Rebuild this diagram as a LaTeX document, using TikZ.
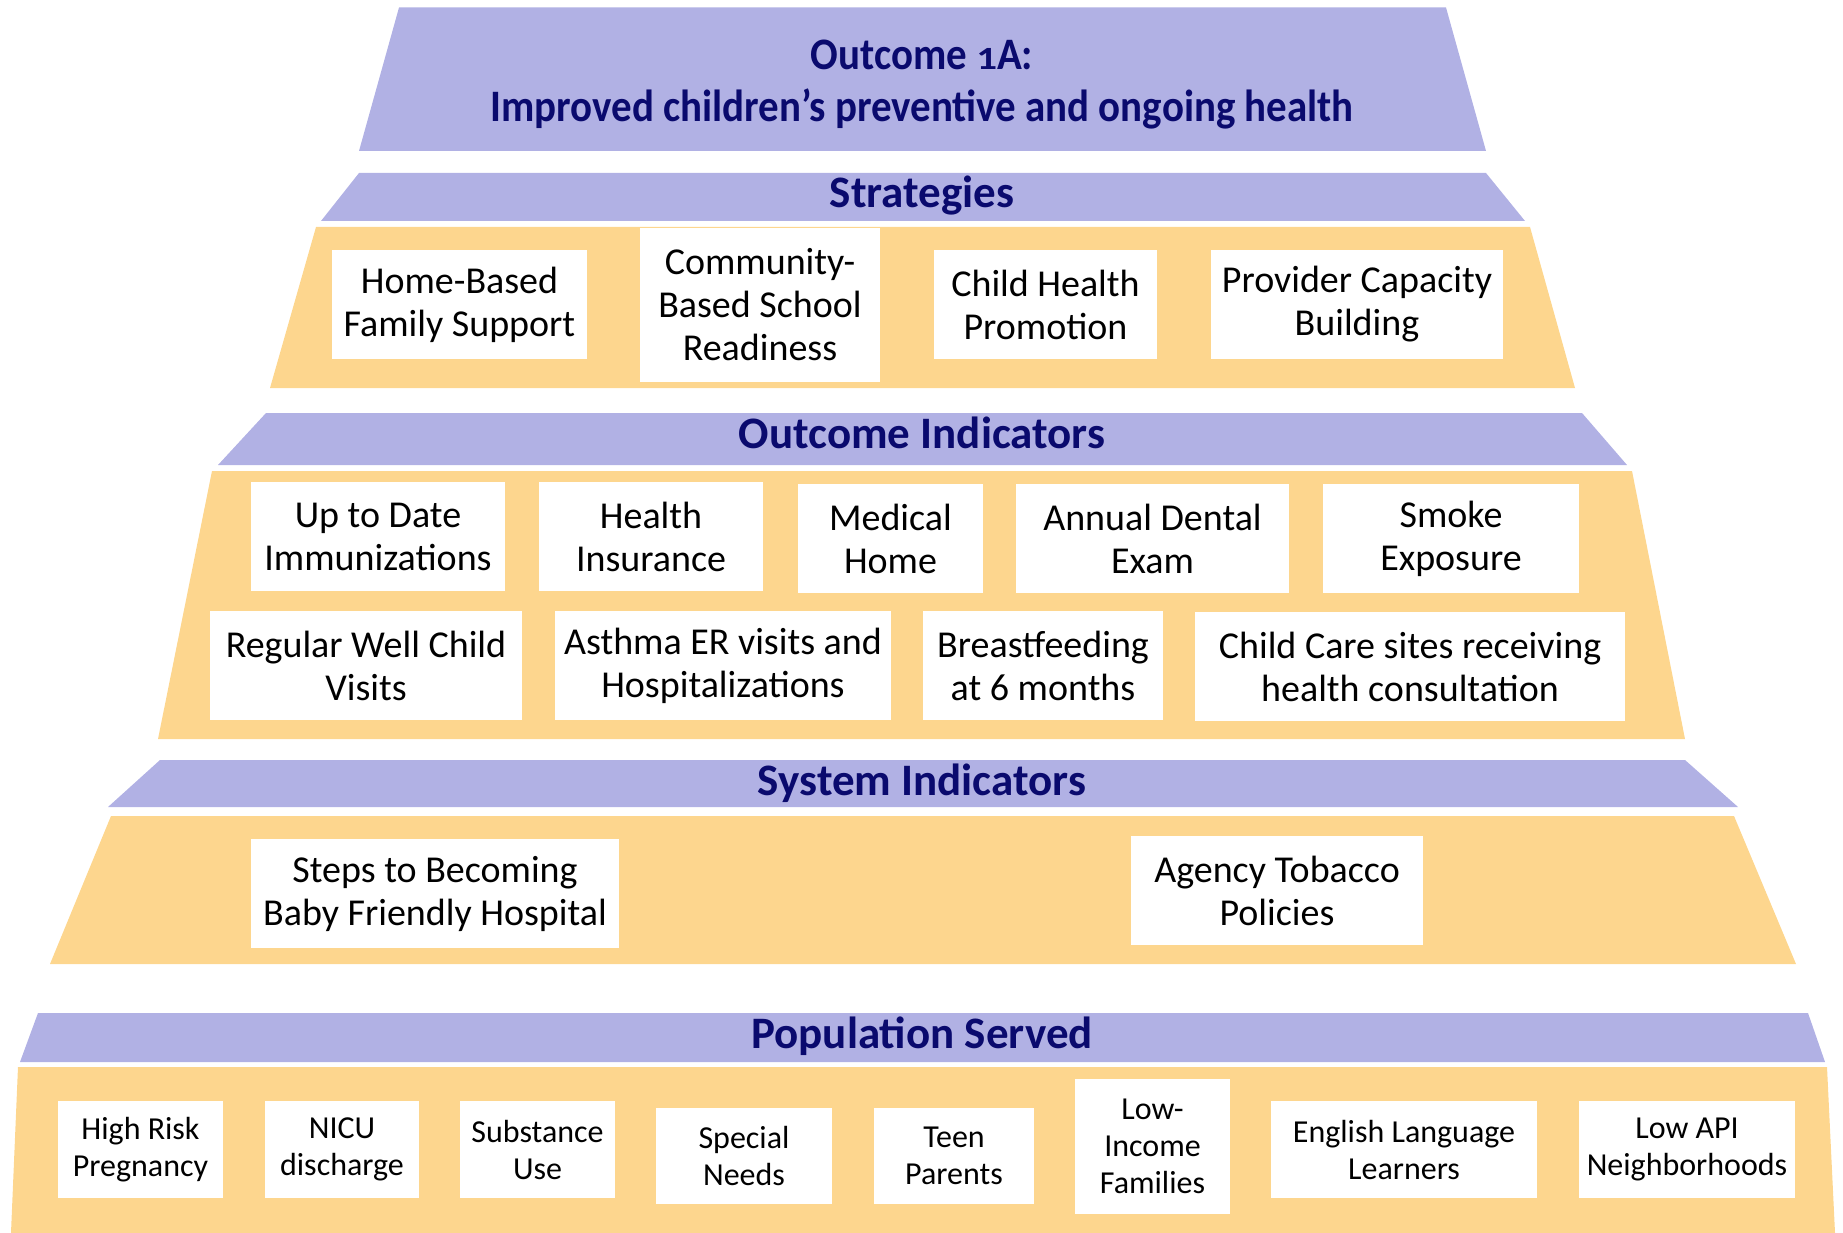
\documentclass[tikz,border=0pt]{standalone}
\usepackage{fontspec}
\setmainfont{Carlito}
\newfontfamily\ttlfont{Carlito}[FakeStretch=0.91]
\definecolor{lav}{RGB}{177,177,228}
\definecolor{org}{RGB}{253,214,142}
\definecolor{navy}{RGB}{10,10,110}
\begin{document}
\begin{tikzpicture}[x=1pt,y=-1pt,
  box/.style={fill=white, inner sep=0pt, align=center, font=\fontsize{38}{43}\selectfont},
  pbox/.style={box, font=\fontsize{32}{37}\selectfont},
  hdr/.style={font=\fontsize{45}{48}\selectfont\bfseries, text=navy, anchor=base, inner sep=0pt},
  ttl/.style={font=\ttlfont\fontsize{45}{50}\selectfont\bfseries, text=navy, anchor=base, inner sep=0pt}]
\useasboundingbox (0,0) rectangle (1843,1233);
% bands
\fill[lav] (399,7.5) -- (1446,7.5) -- (1486,151) -- (359,151) -- cycle;
\fill[lav] (359,173) -- (1486,173) -- (1525,221) -- (321,221) -- cycle;
\fill[org] (316,227) -- (1530,227) -- (1575,388) -- (270,388) -- cycle;
\fill[lav] (266,413) -- (1582,413) -- (1627,465) -- (218,465) -- cycle;
\fill[org] (212,471) -- (1632,471) -- (1685,739) -- (158,739) -- cycle;
\fill[lav] (160,760) -- (1685,760) -- (1738,807) -- (108,807) -- cycle;
\fill[org] (111,816) -- (1734,816) -- (1796,964) -- (50,964) -- cycle;
\fill[lav] (38,1013) -- (1808,1013) -- (1825,1062) -- (20,1062) -- cycle;
\fill[org] (18,1067) -- (1827,1067) -- (1835,1233) -- (11,1233) -- cycle;
% title
\node[ttl] (t1) at (922,70) {Outcome \scalebox{1}[0.72]{1}A:};
\node[ttl] (t2) at (922,122) {Improved children’s preventive and ongoing health};
% headers
\node[hdr] (hs) at (922,208) {Strategies};
\node[hdr] (ho) at (922,448) {Outcome Indicators};
\node[hdr] (hy) at (922,795) {System Indicators};
\node[hdr] (hp) at (922,1048) {Population Served};
% strategies
\node[box, minimum width=255, minimum height=109] (hb) at (459.5,304.5) {Home-Based\\Family Support};
\node[box, minimum width=240, minimum height=154] (cb) at (760,305) {Community-\\Based School\\Readiness};
\node[box, minimum width=223, minimum height=109] (ch) at (1045.5,304.5) {Child Health\\Promotion};
\node[box, minimum width=292, minimum height=109] (pc) at (1357,304.5) {Provider Capacity\\Building};
% outcome indicators
\node[box, minimum width=254, minimum height=109] (ud) at (378,536.5) {Up to Date\\Immunizations};
\node[box, minimum width=224, minimum height=109] (hi) at (651,536.5) {Health\\Insurance};
\node[box, minimum width=185, minimum height=109] (mh) at (890.5,538.5) {Medical\\Home};
\node[box, minimum width=273, minimum height=109] (ad) at (1152.5,538.5) {Annual Dental\\Exam};
\node[box, minimum width=256, minimum height=109] (se) at (1451,538.5) {Smoke\\Exposure};
\node[box, minimum width=312, minimum height=109] (rw) at (366,665.5) {Regular Well Child\\Visits};
\node[box, minimum width=336, minimum height=109] (as) at (723,665.5) {Asthma ER visits and\\Hospitalizations};
\node[box, minimum width=240, minimum height=109] (bf) at (1043,665.5) {Breastfeeding\\at 6 months};
\node[box, minimum width=430, minimum height=109] (cc) at (1410,666.5) {Child Care sites receiving\\health consultation};
% system indicators
\node[box, minimum width=368, minimum height=109] (st) at (435,893.5) {Steps to Becoming\\Baby Friendly Hospital};
\node[box, minimum width=292, minimum height=109] (at) at (1277,890.5) {Agency Tobacco\\Policies};
% population
\node[pbox, minimum width=165, minimum height=97] (hr) at (140.5,1149.5) {High Risk\\Pregnancy};
\node[pbox, minimum width=154, minimum height=97] (ni) at (342,1149.5) {NICU\\discharge};
\node[pbox, minimum width=155, minimum height=97] (su) at (537.5,1149.5) {Substance\\Use};
\node[pbox, minimum width=176, minimum height=96] (sn) at (744,1156) {Special\\Needs};
\node[pbox, minimum width=160, minimum height=96] (tp) at (954,1156) {Teen\\Parents};
\node[pbox, minimum width=155, minimum height=135] (li) at (1152.5,1146.5) {Low-\\Income\\Families};
\node[pbox, minimum width=266, minimum height=97] (el) at (1404,1149.5) {English Language\\Learners};
\node[pbox, minimum width=216, minimum height=97] (la) at (1687,1149.5) {Low API\\Neighborhoods};
\end{tikzpicture}
\end{document}
